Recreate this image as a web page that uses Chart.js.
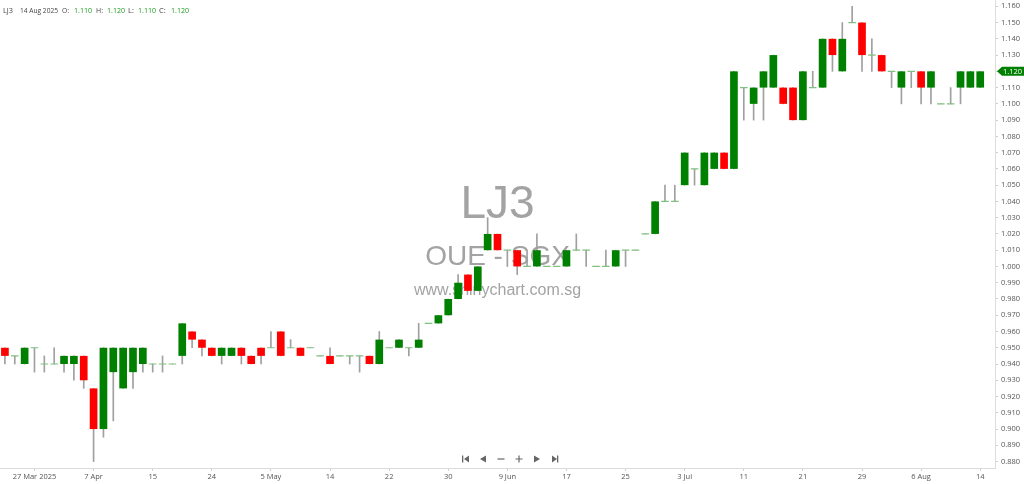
<!DOCTYPE html>
<html>
<head>
<meta charset="utf-8">
<script src="https://cdn.jsdelivr.net/npm/chart.js@4.4.1/dist/chart.umd.min.js"></script>
<style>
  html, body { margin: 0; padding: 0; background: #fff; }
  #wrap { width: 1024px; height: 484px; }
</style>
</head>
<body>
<div id="wrap"><canvas id="candles" width="1024" height="484"></canvas></div>
<script>
// trading days (last slot left empty, as on the original)
const dates = [
  '24 Mar','25 Mar','26 Mar','27 Mar','28 Mar','1 Apr','2 Apr','3 Apr','4 Apr',
  '7 Apr','8 Apr','9 Apr','10 Apr','11 Apr','14 Apr','15 Apr','16 Apr','17 Apr',
  '21 Apr','22 Apr','23 Apr','24 Apr','25 Apr','28 Apr','29 Apr','30 Apr','2 May','5 May',
  '6 May','7 May','8 May','9 May','13 May','14 May',
  '15 May','16 May','19 May','20 May','21 May','22 May',
  '23 May','26 May','27 May','28 May','29 May','30 May',
  '2 Jun','3 Jun','4 Jun','5 Jun','6 Jun','9 Jun',
  '10 Jun','11 Jun','12 Jun','13 Jun','16 Jun','17 Jun',
  '18 Jun','19 Jun','20 Jun','23 Jun','24 Jun','25 Jun',
  '26 Jun','27 Jun','30 Jun','1 Jul','2 Jul','3 Jul',
  '4 Jul','7 Jul','8 Jul','9 Jul','10 Jul','11 Jul',
  '14 Jul','15 Jul','16 Jul','17 Jul','18 Jul','21 Jul',
  '22 Jul','23 Jul','24 Jul','25 Jul','28 Jul','29 Jul',
  '30 Jul','31 Jul','1 Aug','4 Aug','5 Aug','6 Aug',
  '7 Aug','8 Aug','11 Aug','12 Aug','13 Aug','14 Aug',
  ''
];

const open = [
  0.950,0.945,0.940,0.950,0.940,0.940,0.940,0.940,0.945,0.925,
  0.900,0.935,0.925,0.935,0.940,0.940,0.940,0.940,0.945,0.960,
  0.955,0.950,0.945,0.945,0.950,0.945,0.950,0.950,0.960,0.950,
  0.950,0.950,0.945,0.945,0.945,0.945,0.945,0.945,0.940,0.950,
  0.950,0.950,0.950,0.965,0.965,0.970,0.980,0.995,0.985,1.010,
  1.020,1.010,1.010,1.000,1.000,1.000,1.000,1.000,1.010,1.010,
  1.000,1.000,1.000,1.010,1.010,1.020,1.020,1.040,1.040,1.050,
  1.060,1.050,1.060,1.070,1.060,1.110,1.100,1.110,1.110,1.110,
  1.110,1.090,1.110,1.110,1.140,1.120,1.150,1.150,1.130,1.130,
  1.120,1.110,1.120,1.120,1.110,1.100,1.100,1.110,1.110,1.110
];
const high = [
  0.950,0.945,0.950,0.950,0.945,0.950,0.945,0.945,0.945,0.925,
  0.950,0.950,0.950,0.950,0.950,0.940,0.945,0.940,0.965,0.960,
  0.955,0.950,0.950,0.950,0.950,0.945,0.950,0.960,0.960,0.955,
  0.950,0.950,0.945,0.950,0.945,0.945,0.945,0.945,0.960,0.950,
  0.955,0.950,0.965,0.965,0.970,0.980,0.995,0.995,1.000,1.030,
  1.020,1.010,1.010,1.010,1.020,1.000,1.000,1.010,1.020,1.010,
  1.000,1.010,1.010,1.010,1.010,1.020,1.040,1.050,1.050,1.070,
  1.060,1.070,1.070,1.070,1.120,1.110,1.110,1.120,1.130,1.110,
  1.110,1.120,1.120,1.140,1.140,1.150,1.160,1.150,1.140,1.130,
  1.120,1.120,1.120,1.120,1.120,1.100,1.110,1.120,1.120,1.120
];
const low = [
  0.940,0.940,0.940,0.935,0.935,0.940,0.935,0.930,0.925,0.880,
  0.895,0.905,0.925,0.925,0.935,0.935,0.935,0.940,0.940,0.950,
  0.945,0.945,0.940,0.945,0.940,0.940,0.940,0.950,0.945,0.950,
  0.945,0.950,0.945,0.940,0.945,0.940,0.935,0.940,0.940,0.950,
  0.950,0.945,0.950,0.965,0.965,0.970,0.980,0.985,0.985,1.010,
  1.010,1.000,0.995,1.000,1.000,1.000,1.000,1.000,1.010,1.000,
  1.000,1.000,1.000,1.000,1.010,1.020,1.020,1.040,1.040,1.050,
  1.050,1.050,1.060,1.060,1.060,1.090,1.090,1.090,1.110,1.100,
  1.090,1.090,1.110,1.110,1.120,1.120,1.150,1.120,1.120,1.120,
  1.110,1.100,1.110,1.100,1.100,1.100,1.100,1.100,1.110,1.110
];
const close = [
  0.945,0.945,0.950,0.950,0.940,0.940,0.945,0.945,0.930,0.900,
  0.950,0.950,0.950,0.950,0.950,0.940,0.940,0.940,0.965,0.955,
  0.950,0.945,0.950,0.950,0.945,0.940,0.945,0.950,0.945,0.950,
  0.945,0.950,0.945,0.940,0.945,0.945,0.945,0.940,0.955,0.950,
  0.955,0.950,0.955,0.965,0.970,0.980,0.990,0.985,1.000,1.020,
  1.010,1.010,1.000,1.000,1.010,1.000,1.000,1.010,1.010,1.010,
  1.000,1.000,1.010,1.010,1.010,1.020,1.040,1.040,1.040,1.070,
  1.060,1.070,1.070,1.060,1.120,1.110,1.110,1.120,1.130,1.100,
  1.090,1.120,1.110,1.140,1.130,1.140,1.150,1.130,1.130,1.120,
  1.120,1.120,1.120,1.110,1.120,1.100,1.100,1.120,1.120,1.120
];

const tickDates = ['27 Mar','7 Apr','15 Apr','24 Apr','5 May','14 May','22 May','30 May','9 Jun',
                   '17 Jun','25 Jun','3 Jul','11 Jul','21 Jul','29 Jul','6 Aug','14 Aug'];
const tickLabels = ['27 Mar 2025','7 Apr','15','24','5 May','14','22','30','9 Jun',
                    '17','25','3 Jul','11','21','29','6 Aug','14'];

const UP = '#008000', DOWN = '#ff0000', FLAT = '#80c080', WICK = '#a0a0a0';
const FONT = "'Open Sans', 'DejaVu Sans', sans-serif";

const bodies = open.map((o, i) => o !== close[i] ? [o, close[i]] : null);
const flats = open.map((o, i) => o === close[i] ? o : null);
const wicks = low.map((l, i) => [l, high[i]]);

const last = close.length - 1;

const decor = {
  id: 'decor',
  beforeDatasetsDraw(chart) {
    const { ctx, chartArea } = chart;
    const cx = (chartArea.left + chartArea.right) / 2;
    ctx.save();
    ctx.textAlign = 'center';
    ctx.textBaseline = 'alphabetic';
    ctx.fillStyle = '#a3a3a3';
    ctx.font = "46px 'Liberation Sans', Arial, sans-serif";
    ctx.fillText('LJ3', cx, 218);
    ctx.font = "28px 'Liberation Sans', Arial, sans-serif";
    ctx.fillText('OUE - SGX', cx, 265);
    ctx.font = "16px 'Liberation Sans', Arial, sans-serif";
    ctx.fillText('www.shinychart.com.sg', cx, 295);
    ctx.restore();
  },
  afterDraw(chart) {
    const { ctx } = chart;
    const y = chart.scales.y;
    ctx.save();

    // header line
    ctx.font = '7.5px ' + FONT;
    ctx.textBaseline = 'middle';
    const parts = [
      ['LJ3', 3, '#444', 10], ['14 Aug 2025', 20, '#444', 38],
      ['O:', 62, '#444', 7], [open[last].toFixed(3), 74, '#1a9a1a', 18],
      ['H:', 96, '#444', 7], [high[last].toFixed(3), 107, '#1a9a1a', 18],
      ['L:', 128, '#444', 7], [low[last].toFixed(3), 138, '#1a9a1a', 18],
      ['C:', 159, '#444', 7], [close[last].toFixed(3), 171, '#1a9a1a', 18]
    ];
    parts.forEach(([t, x, c, w]) => { ctx.fillStyle = c; ctx.fillText(t, x, 10.5, w); });

    // last price tag
    const py = y.getPixelForValue(close[last]);
    ctx.fillStyle = UP;
    ctx.beginPath();
    ctx.moveTo(997, py);
    ctx.lineTo(1002, py - 4.5);
    ctx.lineTo(1024, py - 4.5);
    ctx.lineTo(1024, py + 4.5);
    ctx.lineTo(1002, py + 4.5);
    ctx.closePath();
    ctx.fill();
    ctx.fillStyle = '#fff';
    ctx.textAlign = 'left';
    ctx.fillText(close[last].toFixed(3), 1003, py + 0.5);

    // navigation controls
    const ny = 459;
    ctx.fillStyle = '#666';
    ctx.strokeStyle = '#666';
    ctx.lineWidth = 1.2;
    ctx.fillRect(462, ny - 3.5, 1.3, 7);
    ctx.beginPath(); ctx.moveTo(464, ny); ctx.lineTo(469, ny - 3.5); ctx.lineTo(469, ny + 3.5); ctx.fill();
    ctx.beginPath(); ctx.moveTo(480, ny); ctx.lineTo(486, ny - 3.5); ctx.lineTo(486, ny + 3.5); ctx.fill();
    ctx.beginPath(); ctx.moveTo(497.5, ny); ctx.lineTo(504.5, ny); ctx.stroke();
    ctx.beginPath(); ctx.moveTo(515.5, ny); ctx.lineTo(522.5, ny); ctx.moveTo(519, ny - 3.5); ctx.lineTo(519, ny + 3.5); ctx.stroke();
    ctx.beginPath(); ctx.moveTo(540, ny); ctx.lineTo(534, ny - 3.5); ctx.lineTo(534, ny + 3.5); ctx.fill();
    ctx.beginPath(); ctx.moveTo(557, ny); ctx.lineTo(552, ny - 3.5); ctx.lineTo(552, ny + 3.5); ctx.fill();
    ctx.fillRect(557, ny - 3.5, 1.3, 7);

    ctx.restore();
  }
};

const ctx = document.getElementById('candles').getContext('2d');
new Chart(ctx, {
  type: 'bar',
  data: {
    labels: dates,
    datasets: [
      {
        label: 'body',
        data: bodies,
        backgroundColor: open.map((o, i) => close[i] > o ? UP : DOWN),
        grouped: false,
        categoryPercentage: 1,
        barPercentage: 0.78
      },
      {
        type: 'line',
        label: 'flat',
        data: flats,
        showLine: false,
        pointStyle: 'line',
        pointRadius: 3.8,
        pointBorderWidth: 1.2,
        pointBorderColor: FLAT,
        pointBackgroundColor: FLAT
      },
      {
        label: 'wick',
        data: wicks,
        backgroundColor: WICK,
        grouped: false,
        barThickness: 1
      }
    ]
  },
  options: {
    responsive: false,
    animation: false,
    layout: { padding: 0, autoPadding: false },
    plugins: {
      legend: { display: false },
      tooltip: { enabled: false }
    },
    scales: {
      x: {
        offset: true,
        grid: { display: true, drawOnChartArea: false, offset: false, tickLength: 3, color: '#cfcfcf' },
        border: { color: '#dcdcdc' },
        ticks: {
          autoSkip: false,
          maxRotation: 0,
          padding: 1,
          color: '#555',
          font: { family: FONT, size: 7.5 },
          callback: (v, i) => tickLabels[i]
        },
        afterBuildTicks: s => { s.ticks = tickDates.map(d => ({ value: dates.indexOf(d) })); },
        afterFit: s => { s.height = 16; }
      },
      y: {
        position: 'right',
        min: 0.87605,
        max: 1.16387,
        grid: { display: true, drawOnChartArea: false, tickLength: 3, color: '#cfcfcf' },
        border: { color: '#dcdcdc' },
        ticks: {
          stepSize: 0.01,
          includeBounds: false,
          padding: 3,
          color: '#555',
          font: { family: FONT, size: 7.5 },
          callback: v => v.toFixed(3)
        },
        afterFit: s => { s.width = 29; s.paddingTop = 0; s.paddingBottom = 0; }
      }
    }
  },
  plugins: [decor]
});
</script>
</body>
</html>
